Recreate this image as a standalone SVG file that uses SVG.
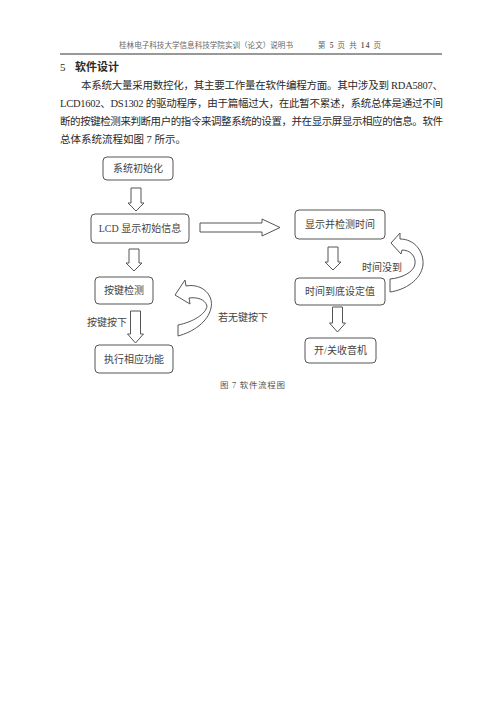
<svg xmlns="http://www.w3.org/2000/svg" width="500" height="707" viewBox="0 0 500 707">
<style>
text{font-family:"Liberation Serif","Noto Sans CJK SC",serif;fill:#2a2a2a}
.hd{font-size:7.5px;fill:#666}
.p{font-size:10.5px}
.bx{fill:#fff;stroke:#555;stroke-width:1}
.lb{font-size:10px;fill:#444;text-anchor:middle}
.tl{font-size:10px;fill:#444}
.ar{fill:#fff;stroke:#555;stroke-width:1;stroke-linejoin:miter}
</style>
<rect width="500" height="707" fill="#fff"/>
<text class="hd" x="119" y="48" textLength="174" lengthAdjust="spacingAndGlyphs">桂林电子科技大学信息科技学院实训（论文）说明书</text>
<text class="hd" x="318" y="48" textLength="63" lengthAdjust="spacing">第 <tspan font-weight="bold">5</tspan> 页 共 <tspan font-weight="bold">14</tspan> 页</text>
<line x1="60" y1="54" x2="442" y2="54" stroke="#333" stroke-width="1"/>
<text x="60" y="71" style="font-size:11px">5</text>
<text x="75" y="71" style="font-size:11px;font-weight:bold">软件设计</text>
<text class="p" x="81" y="89" textLength="362" lengthAdjust="spacing">本系统大量采用数控化，其主要工作量在软件编程方面。其中涉及到 RDA5807、</text>
<text class="p" x="60" y="107" textLength="383" lengthAdjust="spacing">LCD1602、DS1302 的驱动程序，由于篇幅过大，在此暂不累述，系统总体是通过不间</text>
<text class="p" x="60" y="125" textLength="383" lengthAdjust="spacing">断的按键检测来判断用户的指令来调整系统的设置，并在显示屏显示相应的信息。软件</text>
<text class="p" x="60" y="143">总体系统流程如图 7 所示。</text>

<g id="connectors">
<path class="ar" d="M131,188 H141 V203 H144 L136,211 L128,203 H131 Z"/>
<path class="ar" d="M200,223 H262 V219 L280,227.5 L262,236 V232 H200 Z"/>
<path class="ar" d="M129,249 H139 V263 H142 L134,271 L126,263 H129 Z"/>
<path class="ar" d="M130.5,311 H140.5 V334 H143.5 L135.5,343 L127.5,334 H130.5 Z"/>
<path class="ar" d="M328,247 H338 V262 H341 L333,270 L325,262 H328 Z"/>
<path class="ar" d="M332.5,307 H342.5 V323 H345.5 L337.5,332 L329.5,323 H332.5 Z"/>
<path class="ar" d="M175,295 L185,280 L186,286 C203,283 214,296 211,308 C208,322 193,332 178,336 L178,325 C193,322 206,314 207,306 C205,299 197,297 189,298 L190,304 Z"/>
<path class="ar" d="M391,243 L400,233 L400,239 C415,239 424,252 423,265 C421,280 405,290 390,292 L390,279 C402,278 414,272 415,264 C416,256 410,250 402,250 L401,254 Z"/>
<text class="tl" x="87" y="325.5">按键按下</text>
<text class="tl" x="218" y="320.5">若无键按下</text>
<text class="tl" x="362" y="270.5">时间没到</text>
</g>

<g id="n1"><rect class="bx" x="103" y="157" width="70" height="23" rx="4"/><text class="lb" x="138" y="172">系统初始化</text></g>
<g id="n2"><rect class="bx" x="91" y="214" width="98" height="29" rx="4"/><text class="lb" x="140" y="232">LCD 显示初始信息</text></g>
<g id="n3"><rect class="bx" x="95" y="277" width="58" height="27" rx="4"/><text class="lb" x="124" y="294">按键检测</text></g>
<g id="n4"><rect class="bx" x="95" y="345" width="78" height="28" rx="4"/><text class="lb" x="134" y="363">执行相应功能</text></g>
<g id="n5"><rect class="bx" x="295" y="210" width="90" height="29" rx="4"/><text class="lb" x="340" y="228">显示并检测时间</text></g>
<g id="n6"><rect class="bx" x="295" y="278" width="90" height="27" rx="4"/><text class="lb" x="340" y="295">时间到底设定值</text></g>
<g id="n7"><rect class="bx" x="305" y="338" width="71" height="25" rx="4"/><text class="lb" x="340.5" y="354">开/关收音机</text></g>

<text x="220" y="388" style="font-size:8.5px;fill:#555" textLength="65" lengthAdjust="spacing">图 7 软件流程图</text>
</svg>
